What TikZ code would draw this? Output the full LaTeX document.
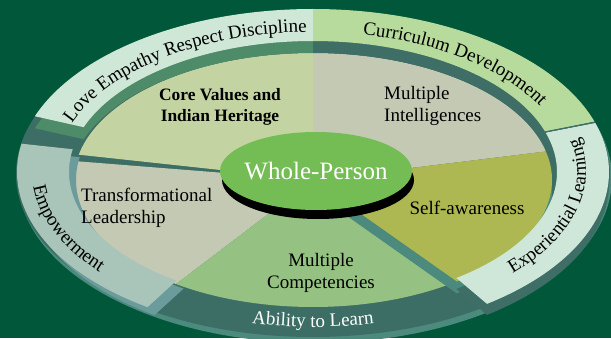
\documentclass[tikz,border=0pt]{standalone}
\usepackage{fontspec}
\setmainfont{Liberation Serif}
\usetikzlibrary{decorations.text}
\definecolor{bg}{HTML}{01573A}
\definecolor{platter}{HTML}{3D6E65}
\definecolor{rim}{HTML}{4B8A7D}
\definecolor{loveF}{HTML}{CFE7D6}
\definecolor{loveS}{HTML}{4E8B68}
\definecolor{currF}{HTML}{B7DA9D}
\definecolor{expF}{HTML}{CFE7D9}
\definecolor{expS}{HTML}{3E6E66}
\definecolor{empF}{HTML}{A9C4B9}
\definecolor{empS}{HTML}{6B9C9B}
\definecolor{coreF}{HTML}{C3D4A2}
\definecolor{miF}{HTML}{C4C9B4}
\definecolor{selfF}{HTML}{AEB852}
\definecolor{selfS}{HTML}{4B8A7C}
\definecolor{mcF}{HTML}{95C283}
\definecolor{tlF}{HTML}{C4C9B3}
\definecolor{wpF}{HTML}{73BD54}
\newcommand\ringpath[7]{(#7) ++(#1:#3pt and #4pt) arc[start angle=#1,end angle=#2,x radius=#3pt,y radius=#4pt] -- ([shift={(#2:#5pt and #6pt)}]#7) arc[start angle=#2,end angle=#1,x radius=#5pt,y radius=#6pt] -- cycle}
\newcommand\wedgepath[5]{(#5) -- ([shift={(#1:#3pt and #4pt)}]#5) arc[start angle=#1,end angle=#2,x radius=#3pt,y radius=#4pt] -- cycle}
\newcommand\ringfont{\fontsize{19pt}{22pt}\selectfont}
\begin{document}
\begin{tikzpicture}[x=1pt,y=1pt,
  lbl/.style={font=\fontsize{19pt}{21.5pt}\selectfont, inner sep=0pt, text=black},
  ringtext/.style={decorate, decoration={text along path, text align={align=center}, text={|\ringfont|#1}}},
  ringtextw/.style={decorate, decoration={text along path, text color=white, text align={align=center}, text={|\ringfont|#1}}}
]
\fill[bg] (0,0) rectangle (611,338);
\useasboundingbox (0,0) rectangle (611,338);
\coordinate (C) at (313,166);
\coordinate (S) at (313,158);
\coordinate (Sd) at (313,146);
\coordinate (Cl) at (313,154);
\coordinate (Ce) at (313,155);
\coordinate (Cm) at (320,158);
% platter
\fill[rim] (315,160) ellipse[x radius=297pt, y radius=165pt];
\fill[platter] (313,164) ellipse[x radius=297pt, y radius=163pt];
% sectors
\fill[coreF] \wedgepath{90}{168.5}{239}{127}{S};
\fill[tlF] \wedgepath{171.5}{235}{239}{127}{S};
\fill[mcF] \wedgepath{235}{307}{239}{127}{S};
\fill[miF] \wedgepath{13}{90}{239}{127}{S};
\fill[selfS] \wedgepath{-53}{13}{239}{127}{Sd};
\fill[selfF] \wedgepath{-53}{13}{239}{127}{S};
% ring sides
\fill[loveS] \ringpath{90}{160}{296}{163}{244}{131}{Cl};
\fill[expS] \ringpath{18}{90}{296}{163}{244}{131}{Cl};
\fill[expS] \ringpath{-54}{17.5}{296}{163}{244}{131}{Ce};
\fill[empS] \ringpath{170}{236}{296}{163}{244}{131}{Cm};
% ring faces
\fill[loveF] \ringpath{90}{160}{296}{163}{244}{131}{C};
\fill[currF] \ringpath{18}{90}{296}{163}{244}{131}{C};
\fill[expF] \ringpath{-54}{17.5}{296}{163}{244}{131}{C};
\fill[empF] \ringpath{170}{236}{296}{163}{244}{131}{C};
\draw[expS, line width=1.2pt] ([shift={(17.8:296pt and 163pt)}]C) -- ([shift={(17.8:244pt and 131pt)}]C);
% ring texts
\path[ringtext={Love Empathy Respect Discipline}] ([shift={(162:257pt and 140pt)}]C) arc[start angle=162,end angle=90,x radius=257pt,y radius=140pt];
\path[ringtext={Curriculum Development}] ([shift={(87:257pt and 140pt)}]C) arc[start angle=87,end angle=15,x radius=257pt,y radius=140pt];
\path[ringtext={Experiential Learning}] ([shift={(-48:273pt and 149pt)}]C) arc[start angle=-48,end angle=20,x radius=273pt,y radius=149pt];
\path[ringtext={Empowerment}] ([shift={(167:281pt and 154pt)}]C) arc[start angle=167,end angle=233,x radius=281pt,y radius=154pt];
\path[ringtextw={Ability to Learn}] ([shift={(245:283pt and 155pt)}]C) arc[start angle=245,end angle=295,x radius=283pt,y radius=155pt];
% center
\fill[black] (318,158) ellipse[x radius=96pt, y radius=39pt];
\fill[wpF] (316,167) ellipse[x radius=96pt, y radius=39pt];
\node[font=\fontsize{25pt}{28pt}\selectfont, text=white, inner sep=0pt] (wp) at (316,167) {Whole-Person};
% sector labels
\node[lbl, font=\fontsize{17.4pt}{20.5pt}\selectfont\bfseries, align=center] (core) at (220,231) {Core Values and\\Indian Heritage};
\node[lbl, align=left, anchor=west] (mi) at (384,232) {Multiple\\Intelligences};
\node[lbl, align=left, anchor=west] (tl) at (81,130) {Transformational\\Leadership};
\node[lbl] (self) at (467,130) {Self-awareness};
\node[lbl, align=center] (mc) at (321,65) {Multiple\\Competencies};
\end{tikzpicture}
\end{document}
